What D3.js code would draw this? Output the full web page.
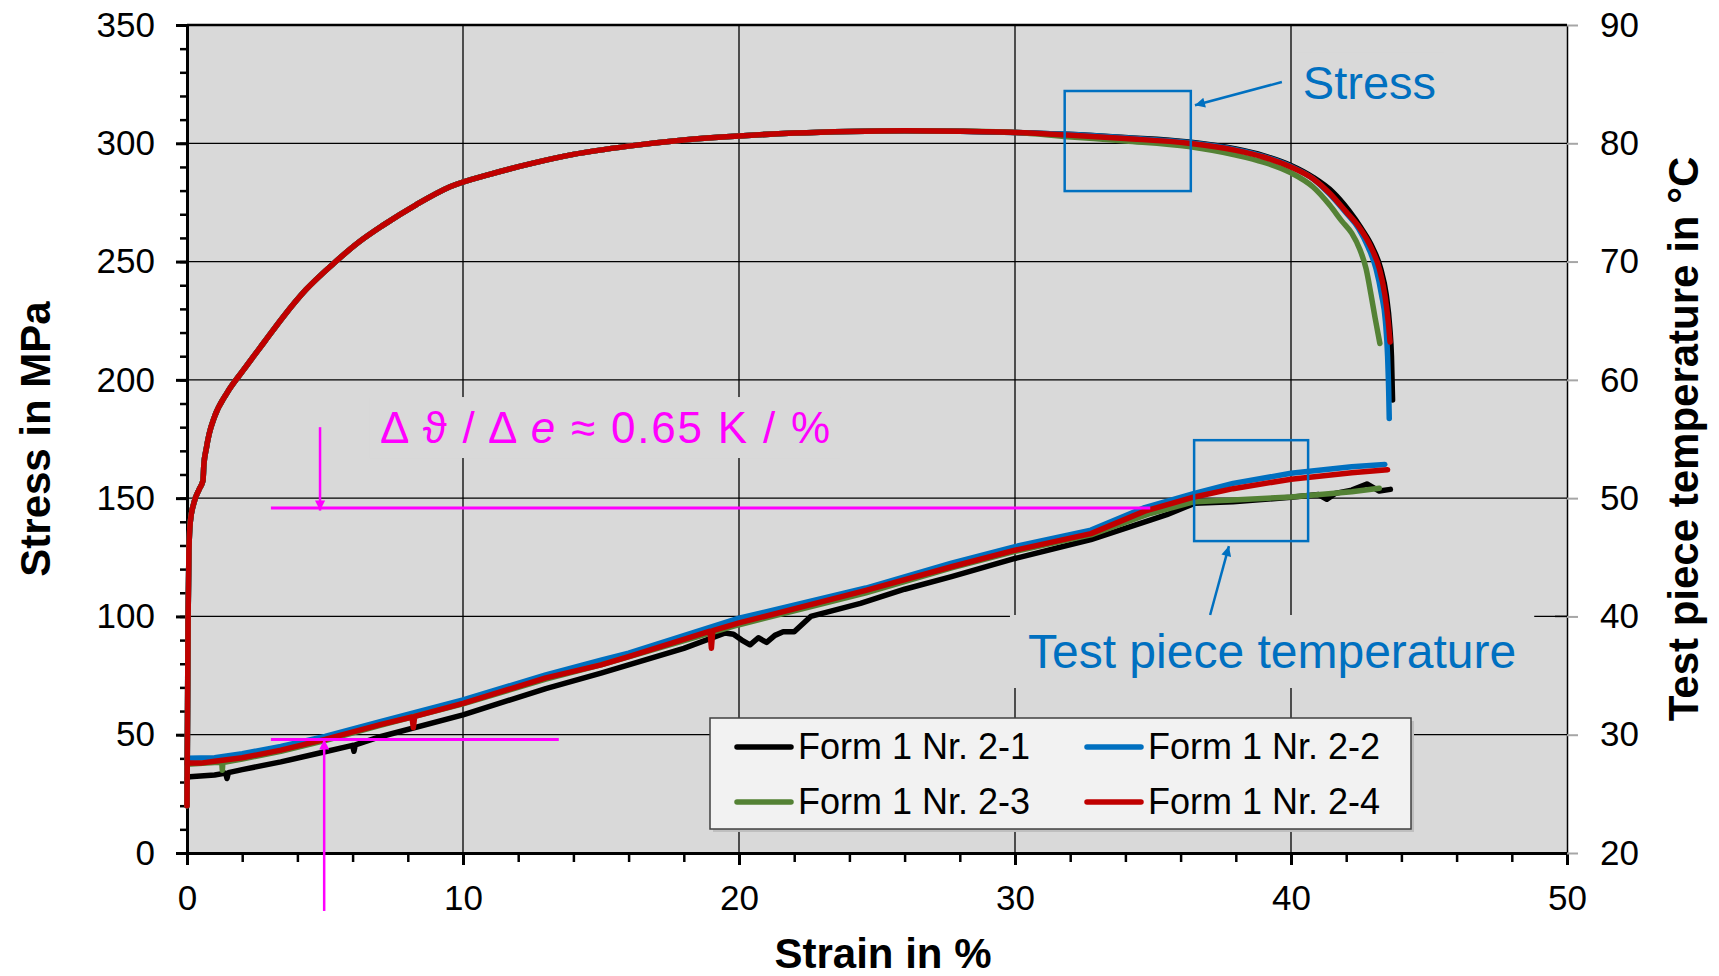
<!DOCTYPE html>
<html>
<head>
<meta charset="utf-8">
<script src="https://cdn.jsdelivr.net/npm/d3@7"></script>
<style>
  body { margin: 0; background: #fff; }
  text { font-family: "Liberation Sans", Arial, sans-serif; }
</style>
</head>
<body>
<svg id="chart" width="1719" height="976"></svg>
<script>
// ---- data (strain in %, stress in MPa, temperature in °C) ----
const seriesNames = ["Form 1 Nr. 2-1", "Form 1 Nr. 2-2", "Form 1 Nr. 2-3", "Form 1 Nr. 2-4"];
const seriesColors = ["#000000", "#0070c0", "#548235", "#c00000"];

// common part of all four stress curves
const stressBody = [[0,20],[0.02,60],[0.04,100],[0.07,128],[0.12,140],[0.25,148],[0.45,154],[0.58,157.5],
  [0.61,164],[0.7,171],[0.8,177],[1.0,184.5],[1.44,194.3],[2.04,204.1],[2.8,216],[3.49,226.7],[4.3,238],
  [5.31,249.2],[6.2,258],[7.11,265.4],[8.3,274],[9.53,281.6],[11,287],[12.5,291.5],[14,295.3],[16,298.8],
  [18,301.4],[20,303.1],[22,304.3],[24,305],[26,305.3],[28,305.1],[30,304.6]];

// end of each stress curve (necking and fracture)
const stressTail21 = [[31.9,303.8],[34,302.4],[36.3,300.5],[38,297.6],[39,294.8],[40,290.6],[40.8,285.6],[41.5,279.5],
  [42.1,271.5],[42.55,264],[42.95,256],[43.25,247],[43.45,236],[43.58,222],[43.64,210],[43.68,191.5]];
const stressTail22 = [[31.9,303.8],[34,302.3],[36.3,300.3],[38,297.3],[39,294.5],[40,290.2],[40.8,285],[41.4,278.5],
  [42.0,270.5],[42.45,264],[42.8,256],[43.08,247],[43.28,236],[43.42,225],[43.5,210],[43.54,195],[43.56,183.7]];
const stressTail23 = [[31.9,302.8],[34,301],[36.3,298.6],[38,295],[39,292],[40,287.5],[40.8,281.5],[41.4,273.9],
  [41.85,267],[42.2,262],[42.5,255],[42.72,247],[42.9,236],[43.05,226],[43.22,215.4]];
const stressTail24 = [[31.9,303.5],[34,302],[36.3,300],[38,297],[39,294.2],[40,290],[40.8,285],[41.41,278.8],
  [42.0,271],[42.5,264],[42.9,256],[43.2,247],[43.4,236],[43.52,225],[43.59,216]];

// test piece temperature
const temp21 = [[0,26.3],[0.1,26.45],[1,26.6],[1.4,26.75],[1.45,26.3],[1.5,26.8],[2,27.05],[3.4,27.7],[5,28.56],
  [6,29.1],[6.05,28.6],[6.1,29.15],[7,29.83],[10,31.67],[13,33.9],[15,35.2],[16,35.9],[18,37.3],[19.5,38.6],
  [19.8,38.5],[20.1,38.0],[20.4,37.6],[20.7,38.2],[21.0,37.8],[21.3,38.4],[21.6,38.7],[22.0,38.7],[22.6,40.0],
  [24.4,41.1],[26,42.3],[27.7,43.36],[30,44.9],[32.75,46.5],[34.9,48.15],[35.5,48.6],[36.5,49.56],[37.9,49.7],
  [40,50.07],[41,50.3],[41.3,49.9],[41.6,50.4],[42.2,50.68],[42.75,51.2],[43.2,50.6],[43.6,50.74]];
const temp22 = [[0,28.0],[1,28.05],[2,28.4],[3.4,29.0],[5,29.85],[7,31.1],[10,32.95],[13,35.05],[15,36.3],
  [16,36.9],[20,39.85],[24.6,42.4],[27.7,44.5],[30,45.9],[32.75,47.3],[34.7,49.2],[36.5,50.4],[37.9,51.25],
  [40,52.1],[42.2,52.65],[43.4,52.85]];
const temp23 = [[0,27.5],[1,27.65],[1.26,27.65],[1.28,27.0],[1.3,27.65],[2,27.95],[3.4,28.6],[5,29.5],[7,30.8],
  [10,32.6],[13,34.7],[15,35.9],[20,39.3],[24.6,42.0],[27.7,44.1],[30,45.5],[32.75,46.9],[34.9,48.7],[36.5,49.7],
  [37.9,49.84],[40,50.1],[42.2,50.54],[43.2,50.83]];
const temp24 = [[0,27.6],[0.5,27.6],[1,27.75],[2,28.05],[3.4,28.7],[5,29.6],[7,30.85],[8.15,31.5],[8.2,30.6],
  [8.25,31.55],[10,32.65],[13,34.8],[15,35.9],[16,36.6],[18.95,38.75],[19.0,37.3],[19.05,38.8],[20,39.45],
  [24.6,42.2],[27.7,44.2],[30,45.6],[32.75,47.0],[34.7,48.9],[36.5,50.1],[37.9,50.8],[40,51.6],[42.2,52.15],[43.5,52.4]];

const stressTicks = [0, 50, 100, 150, 200, 250, 300, 350];
const strainTicks = [0, 10, 20, 30, 40, 50];
const tempTicks = [20, 30, 40, 50, 60, 70, 80, 90];

// ---- chart ----
const svg = d3.select("#chart");
const x = d3.scaleLinear().domain([0, 50]).range([187, 1567]);
const yS = d3.scaleLinear().domain([0, 350]).range([853, 25]);
const yT = d3.scaleLinear().domain([20, 90]).range([853, 25]);

svg.append("rect")
    .attr("x", x(0)).attr("y", yS(350))
    .attr("width", x(50) - x(0)).attr("height", yS(0) - yS(350))
    .attr("fill", "#d9d9d9");

// grid
const grid = svg.append("g").attr("stroke", "#000").attr("stroke-width", 1.3);
grid.selectAll(".h").data(stressTicks.slice(1, -1)).join("line")
    .attr("x1", x(0)).attr("x2", x(50)).attr("y1", d => yS(d)).attr("y2", d => yS(d));
grid.selectAll(".v").data(strainTicks.slice(1, -1)).join("line")
    .attr("y1", yS(0)).attr("y2", yS(350)).attr("x1", d => x(d)).attr("x2", d => x(d));

const boxLayer = svg.append("g");

// axes
function styleAxis(g, size) {
    g.attr("font-family", "Liberation Sans, Arial, sans-serif").attr("font-size", size);
    g.selectAll("text").attr("fill", "#000");
}
svg.append("g").attr("transform", `translate(${x(0)},0)`)
    .call(d3.axisLeft(yS).tickValues(d3.range(0, 351, 10)).tickSize(7).tickFormat(""))
    .call(g => g.select(".domain").remove())
    .selectAll("line").attr("stroke-width", 2.5);
svg.append("g").attr("transform", `translate(${x(0)},0)`)
    .call(d3.axisLeft(yS).tickValues(stressTicks).tickSize(11).tickPadding(21).tickSizeOuter(0))
    .call(g => styleAxis(g, 35))
    .call(g => g.selectAll("line,path").attr("stroke-width", 3));

svg.append("g").attr("transform", `translate(0,${yS(0)})`)
    .call(d3.axisBottom(x).tickValues(d3.range(0, 51, 2)).tickSize(9).tickFormat(""))
    .call(g => g.select(".domain").remove())
    .selectAll("line").attr("stroke-width", 2.5);
svg.append("g").attr("transform", `translate(0,${yS(0)})`)
    .call(d3.axisBottom(x).tickValues(strainTicks).tickSize(12).tickPadding(20).tickSizeOuter(0))
    .call(g => styleAxis(g, 35))
    .call(g => g.selectAll("line,path").attr("stroke-width", 3));

svg.append("g").attr("transform", `translate(${x(50)},0)`)
    .call(d3.axisRight(yT).tickValues(tempTicks).tickSize(11).tickPadding(22).tickSizeOuter(0))
    .call(g => styleAxis(g, 35))
    .call(g => g.select(".domain").attr("stroke-width", 1.5))
    .call(g => g.selectAll(".tick line").attr("stroke", "#a6a6a6").attr("stroke-width", 2));
svg.append("line")
    .attr("x1", x(50) - 12).attr("x2", x(50)).attr("y1", yT(40)).attr("y2", yT(40))
    .attr("stroke", "#000").attr("stroke-width", 1.5);
svg.append("line")
    .attr("x1", x(0)).attr("x2", x(50)).attr("y1", yS(350)).attr("y2", yS(350))
    .attr("stroke", "#000").attr("stroke-width", 2.5);

// axis titles
svg.append("text").attr("transform", `translate(50,${(yS(0) + yS(350)) / 2}) rotate(-90)`)
    .attr("text-anchor", "middle").attr("font-size", 42).attr("font-weight", "bold")
    .text("Stress in MPa");
svg.append("text").attr("x", (x(0) + x(50)) / 2 + 6).attr("y", 968)
    .attr("text-anchor", "middle").attr("font-size", 42).attr("font-weight", "bold")
    .text("Strain in %");
svg.append("text").attr("transform", `translate(1698,${(yS(0) + yS(350)) / 2}) rotate(-90)`)
    .attr("text-anchor", "middle").attr("font-size", 42).attr("font-weight", "bold")
    .text("Test piece temperature in °C");

// curves
const lineS = d3.line().x(d => x(d[0])).y(d => yS(d[1])).curve(d3.curveMonotoneX);
const lineT = d3.line().x(d => x(d[0])).y(d => yT(d[1]));
const stressSeries = [stressBody.concat(stressTail21), stressBody.concat(stressTail22),
                      stressBody.concat(stressTail23), stressBody.concat(stressTail24)];
const tempSeries = [temp21, temp22, temp23, temp24];
const drawOrder = [0, 1, 2, 3];
const curves = svg.append("g").attr("fill", "none").attr("stroke-linejoin", "round").attr("stroke-linecap", "round");
drawOrder.forEach(i => {
    curves.append("path").attr("d", lineT(tempSeries[i])).attr("stroke", seriesColors[i]).attr("stroke-width", 5.5);
});
drawOrder.forEach(i => {
    curves.append("path").attr("d", lineS(stressSeries[i])).attr("stroke", seriesColors[i]).attr("stroke-width", 5.5);
});

// markers
const defs = svg.append("defs");
[["arrBlue", "#0070c0"], ["arrMag", "#ff00ff"]].forEach(([id, c]) => {
    defs.append("marker").attr("id", id).attr("viewBox", "0 0 10 10")
        .attr("refX", 10).attr("refY", 5).attr("markerWidth", 25).attr("markerHeight", 10)
        .attr("markerUnits", "userSpaceOnUse").attr("orient", "auto")
        .append("path").attr("d", "M0,0L10,5L0,10z").attr("fill", c);
});

// text with background box that hides the grid
function boxedText(px, py, size, color, pad) {
    const t = svg.append("text").attr("x", px).attr("y", py).attr("font-size", size).attr("fill", color);
    return {t, finish() {
        const b = t.node().getBBox();
        boxLayer.append("rect").attr("x", b.x - pad[0]).attr("y", b.y - pad[1])
            .attr("width", b.width + 2 * pad[0]).attr("height", b.height + 2 * pad[1]).attr("fill", "#d9d9d9");
    }};
}

// magenta slope annotation
const mag = "#ff00ff";
const slopeText = boxedText(x(6.99), yS(173.3), 44, mag, [10, 6]);
slopeText.t.attr("textLength", x(23.3) - x(6.99)).attr("lengthAdjust", "spacing");
slopeText.t.append("tspan").text("Δ ϑ / Δ ");
slopeText.t.append("tspan").attr("font-style", "italic").text("e");
slopeText.t.append("tspan").text(" ≈ 0.65 K / %");
slopeText.finish();

const magG = svg.append("g").attr("stroke", mag);
magG.append("line").attr("x1", x(3.04)).attr("x2", x(34.9)).attr("y1", yT(49.16)).attr("y2", yT(49.16)).attr("stroke-width", 3);
magG.append("line").attr("x1", x(3.04)).attr("x2", x(13.47)).attr("y1", yT(29.6)).attr("y2", yT(29.6)).attr("stroke-width", 3);
magG.append("line").attr("x1", x(4.82)).attr("x2", x(4.82)).attr("y1", yT(56.0)).attr("y2", yT(48.95))
    .attr("stroke-width", 2.5).attr("marker-end", "url(#arrMag)");
magG.append("line").attr("x1", x(4.97)).attr("x2", x(4.97)).attr("y1", yT(15.1)).attr("y2", yT(29.6))
    .attr("stroke-width", 2.5).attr("marker-end", "url(#arrMag)");

// blue call-outs
const blue = "#0070c0";
const stressLabel = boxedText(x(40.43), yS(318.6), 47, blue, [8, 4]);
stressLabel.t.text("Stress");
stressLabel.finish();
const tempLabel = boxedText(x(30.47), yS(78.2), 48, blue, [18, 10]);
tempLabel.t.text("Test piece temperature");
tempLabel.finish();

const blueG = svg.append("g").attr("stroke", blue).attr("fill", "none");
blueG.append("rect").attr("x", x(31.8)).attr("y", yS(322.1))
    .attr("width", x(36.37) - x(31.8)).attr("height", yS(279.8) - yS(322.1)).attr("stroke-width", 2.5);
blueG.append("rect").attr("x", x(36.49)).attr("y", yT(54.9))
    .attr("width", x(40.62) - x(36.49)).attr("height", yT(46.37) - yT(54.9)).attr("stroke-width", 2.5);
blueG.append("line").attr("x1", x(39.67)).attr("y1", yS(325.9)).attr("x2", x(36.52)).attr("y2", yS(316.1))
    .attr("stroke-width", 2.5).attr("marker-end", "url(#arrBlue)");
blueG.append("line").attr("x1", x(37.07)).attr("y1", yT(40.12)).attr("x2", x(37.75)).attr("y2", yT(45.95))
    .attr("stroke-width", 2.5).attr("marker-end", "url(#arrBlue)");

// legend
const legendPos = [[0, 0], [1, 0], [0, 1], [1, 1]]; // [column,row] for series 2-1, 2-2, 2-3, 2-4
const lg = svg.append("g").attr("transform", "translate(710,718)");
lg.append("rect").attr("x", 3).attr("y", 3).attr("width", 701).attr("height", 111).attr("fill", "#bfbfbf");
lg.append("rect").attr("width", 701).attr("height", 111).attr("fill", "#f2f2f2")
    .attr("stroke", "#404040").attr("stroke-width", 1.5);
const items = lg.selectAll(".item").data(seriesNames).join("g")
    .attr("transform", (d, i) => `translate(${27 + legendPos[i][0] * 350},${29 + legendPos[i][1] * 55})`);
items.append("line").attr("x1", 0).attr("x2", 54).attr("stroke", (d, i) => seriesColors[i])
    .attr("stroke-width", 5.5).attr("stroke-linecap", "round");
items.append("text").attr("x", 61).attr("y", 12).attr("font-size", 36).attr("fill", "#000").text(d => d);
</script>
</body>
</html>
